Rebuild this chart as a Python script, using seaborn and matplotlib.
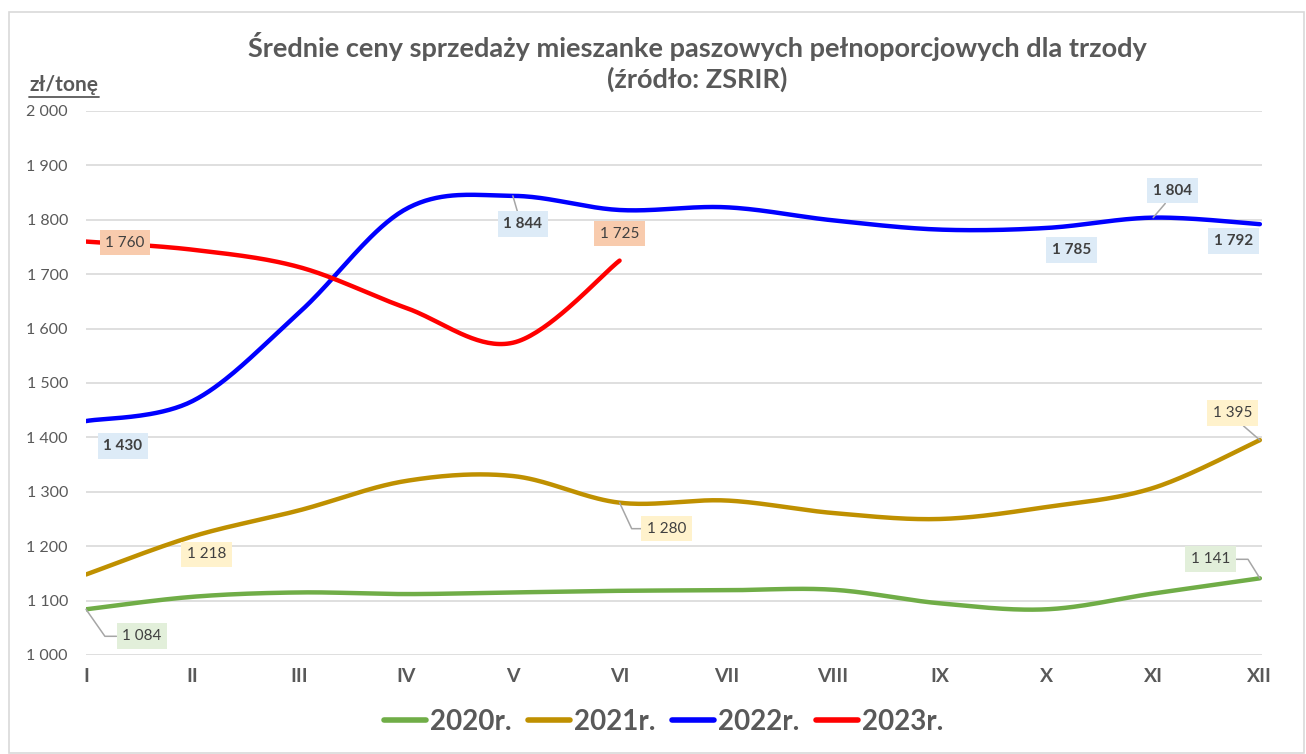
import numpy as np
import pandas as pd
import matplotlib.pyplot as plt
from matplotlib.lines import Line2D
from matplotlib.patches import Rectangle
import seaborn as sns

months = ['I', 'II', 'III', 'IV', 'V', 'VI', 'VII', 'VIII', 'IX', 'X', 'XI', 'XII']
y2020 = [1084, 1107, 1115, 1112, 1115, 1118, 1119, 1120, 1095, 1084, 1113, 1141]
y2021 = [1148, 1218, 1266, 1320, 1329, 1280, 1284, 1261, 1250, 1272, 1307, 1395]
y2022 = [1430, 1467, 1630, 1820, 1844, 1818, 1823, 1799, 1782, 1785, 1804, 1792]
y2023 = [1760, 1745, 1713, 1638, 1574, 1725]
years = ['2020r.', '2021r.', '2022r.', '2023r.']
colors = ['#70AD47', '#BF9000', '#0000FF', '#FF0000']
label_bg = ['#E2EFDA', '#FFF2CC', '#DDEBF7', '#F8CBAD']


def smooth(vals, n=40):
    # Excel-like smoothed line (Catmull-Rom / Bezier)
    p = np.array(vals, dtype=float)
    x = np.arange(len(p), dtype=float)
    px = np.concatenate([[x[0]], x, [x[-1]]])
    py = np.concatenate([[p[0]], p, [p[-1]]])
    xs, ys = [], []
    t = np.linspace(0, 1, n)
    for i in range(1, len(px) - 2):
        b0x, b0y = px[i], py[i]
        b3x, b3y = px[i + 1], py[i + 1]
        b1x, b1y = b0x + (px[i + 1] - px[i - 1]) / 6, b0y + (py[i + 1] - py[i - 1]) / 6
        b2x, b2y = b3x - (px[i + 2] - px[i]) / 6, b3y - (py[i + 2] - py[i]) / 6
        xs.append((1 - t) ** 3 * b0x + 3 * (1 - t) ** 2 * t * b1x + 3 * (1 - t) * t ** 2 * b2x + t ** 3 * b3x)
        ys.append((1 - t) ** 3 * b0y + 3 * (1 - t) ** 2 * t * b1y + 3 * (1 - t) * t ** 2 * b2y + t ** 3 * b3y)
    return np.concatenate(xs), np.concatenate(ys)


frames = []
for name, vals in zip(years, [y2020, y2021, y2022, y2023]):
    sx, sy = smooth(vals)
    frames.append(pd.DataFrame({'x': sx, 'y': sy, 'rok': name}))
df = pd.concat(frames, ignore_index=True)

sns.set_style('white')
plt.rcParams['font.family'] = ['Lato', 'DejaVu Sans']

fig = plt.figure(figsize=(13.06, 7.54), dpi=100)
ax = fig.add_axes([86 / 1306, 1 - 655 / 754, 1176 / 1306, 544 / 754])

sns.lineplot(data=df, x='x', y='y', hue='rok', palette=dict(zip(years, colors)),
             units='rok', estimator=None, sort=False, linewidth=3.2,
             legend=False, ax=ax, solid_capstyle='round', zorder=3)

ax.set_xlim(0, 11.02)
ax.set_ylim(1000, 2000)
ax.set_yticks(range(1000, 2001, 100))
ax.set_yticklabels([f'{v:,}'.replace(',', ' ') for v in range(1000, 2001, 100)])
ax.set_xticks(range(12))
ax.set_xticklabels(months, fontweight='bold')
ax.tick_params(axis='y', length=0, pad=13, labelsize=11.5, labelcolor='#595959')
ax.tick_params(axis='x', length=0, pad=9, labelsize=14, labelcolor='#595959')
ax.grid(axis='y', color='#D9D9D9', linewidth=1.2, zorder=0)
ax.grid(axis='x', visible=False)
for s in ax.spines.values():
    s.set_visible(False)
ax.set_xlabel('')
ax.set_ylabel('')

# data labels: (series index, month index, offset px, leader settings)
labels = [
    (3, 0, (39, -1), None),
    (2, 0, (37, -25), None),
    (2, 4, (10, -28), dict(relpos=(0.4, 1))),
    (3, 5, (0, 27), None),
    (2, 9, (25, -22), None),
    (2, 10, (19, 27), dict(relpos=(0.45, 0))),
    (2, 11, (-26, -17), None),
    (1, 1, (14, -18), None),
    (1, 5, (47, -26), dict(relpos=(0, 0.5), connectionstyle='angle,angleA=0,angleB=-65')),
    (1, 11, (-27, 27), dict(relpos=(0.6, 0))),
    (0, 0, (56, -27), dict(relpos=(0, 0.5), connectionstyle='angle,angleA=0,angleB=-55')),
    (0, 11, (-49, 19), dict(relpos=(1, 0.5), connectionstyle='angle,angleA=0,angleB=-58')),
]
series = [y2020, y2021, y2022, y2023]
for si, mi, off, lead in labels:
    v = series[si][mi]
    arrow = None
    if lead is not None:
        arrow = dict(arrowstyle='-', color='#A6A6A6', lw=1.1, shrinkA=0, shrinkB=0)
        arrow.update(lead)
    ax.annotate(f'{v:,}'.replace(',', ' '), xy=(mi, v), xytext=off,
                textcoords='offset pixels', ha='center', va='center',
                fontsize=11, color='#404040',
                fontweight='bold' if si == 2 else 'normal',
                bbox=dict(boxstyle='square,pad=0.38', fc=label_bg[si], ec='none'),
                arrowprops=arrow, zorder=5, annotation_clip=False)

fig.text(0.534, 1 - 62 / 754,
         'Średnie ceny sprzedaży mieszanke paszowych pełnoporcjowych dla trzody\n(źródło: ZSRIR)',
         ha='center', va='center', fontsize=19.5, fontweight='bold', color='#595959',
         linespacing=1.3)

fig.text(29 / 1306, 1 - 85 / 754, 'zł/tonę', ha='left', va='center',
         fontsize=15, fontweight='bold', color='#595959')
fig.add_artist(Line2D([29 / 1306, 99 / 1306], [1 - 97 / 754, 1 - 97 / 754],
                      color='#595959', lw=1.3))

handles = [Line2D([0], [0], color=c, lw=4, solid_capstyle='round') for c in colors]
fig.legend(handles, years, loc='center', bbox_to_anchor=(0.508, 1 - 722 / 754),
           ncol=4, frameon=False, handlelength=1.5, handletextpad=0.15,
           columnspacing=0.6, prop=dict(size=20, weight='bold'), labelcolor='#595959')

fig.add_artist(Rectangle((9 / 1306, 1 / 754), 1295 / 1306, 741 / 754,
                         transform=fig.transFigure, fill=False, ec='#D9D9D9', lw=1.2))

fig.savefig('out.png', dpi=100)
